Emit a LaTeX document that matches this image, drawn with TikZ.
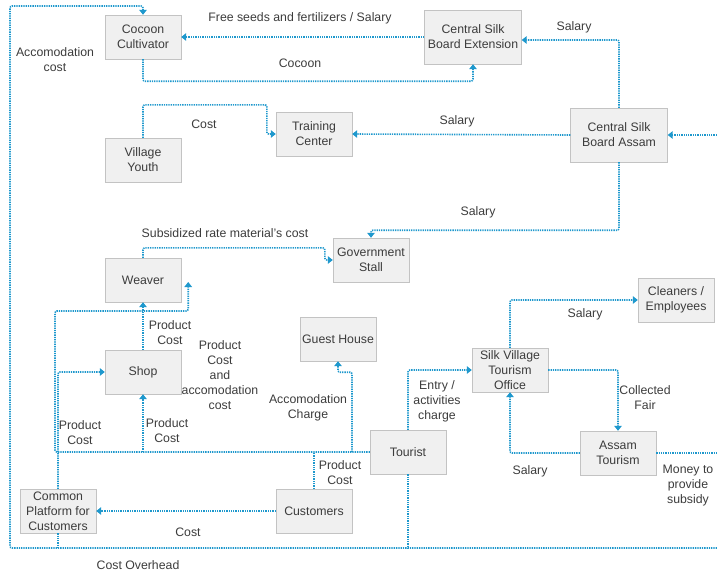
\documentclass[tikz,border=0pt]{standalone}
\usepackage{fontspec}
\setmainfont{Liberation Sans}
\usetikzlibrary{arrows.meta}
\definecolor{flowblue}{RGB}{30,152,205}
\definecolor{boxgray}{RGB}{240,240,240}
\definecolor{boxline}{RGB}{195,195,195}
\definecolor{txtgray}{RGB}{60,60,60}

\begin{document}
\begin{tikzpicture}[x=1pt,y=-1pt,
  font=\fontsize{12.3}{15}\selectfont,text=txtgray,
  box/.style={draw=boxline,fill=boxgray,minimum width=76pt,minimum height=44pt,align=center,inner sep=0pt},
  bigbox/.style={box,minimum width=97pt,minimum height=54pt},
  lbl/.style={align=center,inner sep=0pt},
  link/.style={flowblue,line width=1.6pt,dash pattern=on 1.3pt off 1pt,rounded corners=2pt},
  flow/.style={link,-{Triangle[width=7.5pt,length=5pt]}}]
\useasboundingbox (0,0) rectangle (717,576);

\node[box] (cc) at (143,37) {Cocoon\\Cultivator};
\node[bigbox] (cse) at (473,37) {Central Silk\\Board Extension};
\node[box] (vy) at (143,160) {Village\\Youth};
\node[box] (tc) at (314,134) {Training\\Center};
\node[bigbox] (csa) at (619,135) {Central Silk\\Board Assam};
\node[box] (wv) at (143,280) {Weaver};
\node[box] (gs) at (371,260) {Government\\Stall};
\node[box] (gh) at (338,339) {Guest House};
\node[box] (sh) at (143,372) {Shop};
\node[box] (ce) at (676,300) {Cleaners /\\Employees};
\node[box] (sv) at (510,370) {Silk Village\\Tourism\\Office};
\node[box] (tr) at (408,452) {Tourist};
\node[box] (at) at (618,453) {Assam\\Tourism};
\node[box] (cp) at (58,511) {Common\\Platform for\\Customers};
\node[box] (cu) at (314,511) {Customers};

\coordinate (bl) at (10,548);
\coordinate (br) at (717,548);
\coordinate (ghc) at ([xshift=14pt]gh.south);

% flows
\draw[flow] (cse.west) -- (cc.east);
\draw[flow] (cc.south) -- ++(0,22) -| (cse.south);
\draw[flow] (csa.north) |- ([yshift=-3pt]cse.east);
\draw[flow] (csa.west) -- (tc.east);
\draw[flow] (vy.north) -- ++(0,-33) -| ([xshift=-9pt]tc.west) -- (tc.west);
\draw[flow] (csa.south) -- ++(0,68) -| (gs.north);
\draw[flow] (wv.north) -- ++(0,-10) -| ([xshift=-8pt]gs.west) -- (gs.west);
\draw[flow] (sh.north) -- (wv.south);
\draw[flow] (tr.west) -| (55,311) -| ([xshift=7pt,yshift=-2pt]wv.east);
\draw[flow] (sh.south |- tr.west) -- (sh.south);
\draw[flow] (ghc |- tr.west) |- ([yshift=-11pt]gh.south) -- (gh.south);
\draw[link] (cu.north) -- (cu.north |- tr.west);
\draw[flow] (cp.north) |- (sh.west);
\draw[link] (cp.south) -- (cp.south |- bl);
\draw[flow] (cu.west) -- (cp.east);
\draw[flow] (br) -| (10,6) -| (cc.north);
\draw[link] (tr.south) -- (tr.south |- br);
\draw[flow] (tr.north) |- (sv.west);
\draw[flow] (sv.north) |- (ce.west);
\draw[flow] (sv.east) -| (at.north);
\draw[flow] (at.west) -| (sv.south);
\draw[link] (at.east) -- (at.east -| br);
\draw[flow] (csa.east -| br) -- (csa.east);

% labels
\node[lbl] (l1) at (300,18) {Free seeds and fertilizers / Salary};
\node[lbl] (l2) at (574,27) {Salary};
\node[lbl] (l3) at (55,60) {Accomodation\\cost};
\node[lbl] (l4) at (300,63) {Cocoon};
\node[lbl] (l5) at (204,124) {Cost};
\node[lbl] (l6) at (457,121) {Salary};
\node[lbl] (l7) at (478,212) {Salary};
\node[lbl] (l8) at (225,233) {Subsidized rate material's cost};
\node[lbl] (l9) at (170,333) {Product\\Cost};
\node[lbl] (l10) at (220,375) {Product\\Cost\\and\\accomodation\\cost};
\node[lbl] (l11) at (585,314) {Salary};
\node[lbl] (l12) at (645,398) {Collected\\Fair};
\node[lbl] (l13) at (437,401) {Entry /\\activities\\charge};
\node[lbl] (l14) at (308,408) {Accomodation\\Charge};
\node[lbl] (l15) at (80,433) {Product\\Cost};
\node[lbl] (l16) at (167,431) {Product\\Cost};
\node[lbl] (l17) at (340,473) {Product\\Cost};
\node[lbl] (l18) at (530,471) {Salary};
\node[lbl] (l19) at (688,486) {Money to\\provide\\subsidy};
\node[lbl] (l20) at (188,532) {Cost};
\node[lbl] (l21) at (138,565) {Cost Overhead};
\end{tikzpicture}
\end{document}
